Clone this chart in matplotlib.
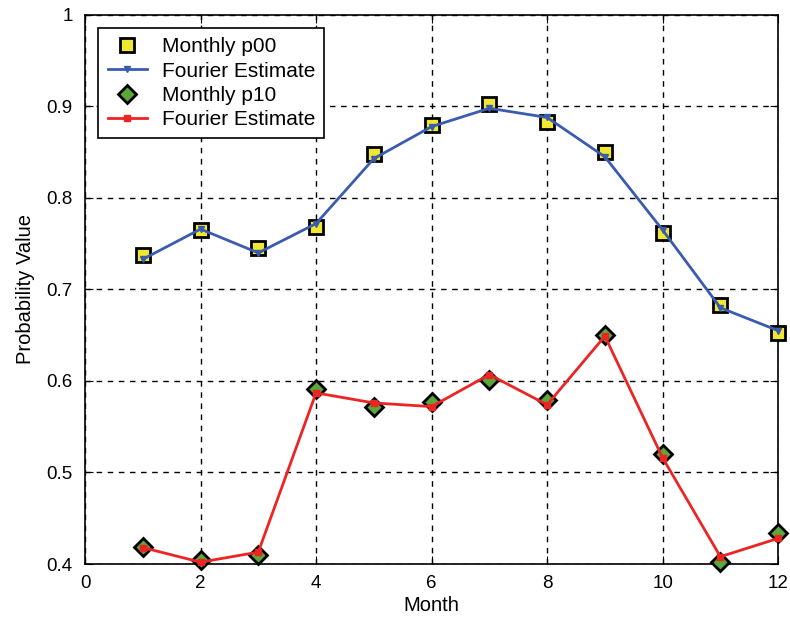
import matplotlib.pyplot as plt

plt.rcParams['font.family'] = ['Liberation Sans', 'DejaVu Sans']

# 月份与概率数据
months = [1, 2, 3, 4, 5, 6, 7, 8, 9, 10, 11, 12]
p00 = [0.738, 0.765, 0.745, 0.768, 0.848, 0.880, 0.903, 0.883, 0.850, 0.762, 0.683, 0.652]
p00_fit = [0.733, 0.766, 0.740, 0.772, 0.843, 0.878, 0.898, 0.888, 0.845, 0.765, 0.680, 0.655]
p10 = [0.419, 0.404, 0.410, 0.591, 0.572, 0.577, 0.601, 0.579, 0.650, 0.520, 0.402, 0.434]
p10_fit = [0.418, 0.402, 0.413, 0.587, 0.576, 0.572, 0.607, 0.574, 0.649, 0.516, 0.408, 0.428]

fig = plt.figure(figsize=(7.9, 6.23), dpi=100)
ax = fig.add_axes([0.1076, 0.0947, 0.8774, 0.8813])

h1, = ax.plot(months, p00, 's', ms=10, mfc='#f0e830', mec='black', mew=2, zorder=3,
              clip_on=False, label='Monthly p00')
h2, = ax.plot(months, p00_fit, '-v', color='#3a5bb0', lw=2, ms=5, zorder=4,
              clip_on=False, label='Fourier Estimate')
h3, = ax.plot(months, p10, 'D', ms=9, mfc='#5aa83a', mec='black', mew=2, zorder=3,
              clip_on=False, label='Monthly p10')
h4, = ax.plot(months, p10_fit, '-s', color='#ee2424', lw=2, ms=5, zorder=4,
              clip_on=False, label='Fourier Estimate')

ax.set_xlim(0, 12)
ax.set_ylim(0.4, 1.0)
ax.set_xticks(range(0, 13, 2))
ax.set_yticks([0.4, 0.5, 0.6, 0.7, 0.8, 0.9, 1.0])
ax.set_yticklabels(['0.4', '0.5', '0.6', '0.7', '0.8', '0.9', '1'])
ax.grid(True, color='black', linestyle=(0, (4, 4)), linewidth=1)
ax.tick_params(direction='in', top=True, right=True, labelsize=13.5, length=6)
ax.tick_params(axis='y', pad=9)
ax.tick_params(axis='x', pad=8)
for s in ax.spines.values():
    s.set_linewidth(1.2)

ax.set_xlabel('Month', fontsize=14.5, labelpad=3)
ax.set_ylabel('Probability Value', fontsize=14.5, labelpad=8)

leg = ax.legend(handles=[h1, h2, h3, h4], loc='upper left', fontsize=15,
                fancybox=False, edgecolor='black', framealpha=1,
                borderaxespad=0.63, handlelength=1.9, labelspacing=0.25,
                borderpad=0.45, handletextpad=0.7)
leg.get_frame().set_linewidth(1.2)

plt.savefig('out.png', dpi=100)
